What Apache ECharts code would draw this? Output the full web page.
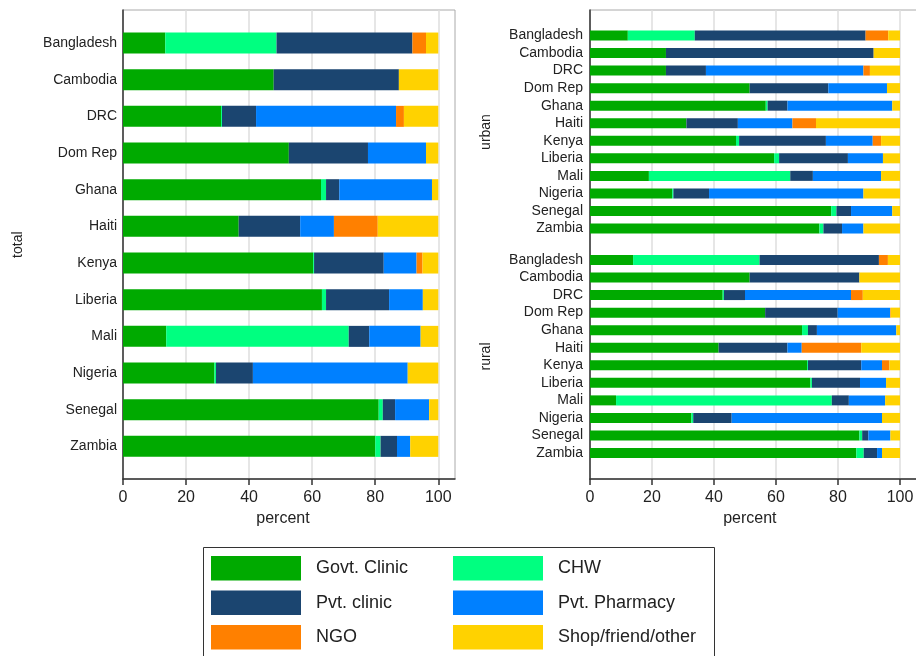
<!DOCTYPE html>
<html>
<head>
<meta charset="utf-8">
<script src="https://cdn.jsdelivr.net/npm/echarts@6/dist/echarts.min.js"></script>
<style>html,body{margin:0;padding:0;background:#fff}#c{width:916px;height:656px}</style>
</head>
<body>
<div id="c"></div>
<script>
const countries = ['Bangladesh','Cambodia','DRC','Dom Rep','Ghana','Haiti','Kenya','Liberia','Mali','Nigeria','Senegal','Zambia'];
const sources = ['Govt. Clinic','CHW','Pvt. clinic','Pvt. Pharmacy','NGO','Shop/friend/other'];
const colors = ['#00aa00','#00ff80','#1b4570','#0080ff','#ff8000','#ffd200'];
const tickValues = [0,20,40,60,80,100];

// total
const totGovt   = [13.4,47.8,31.1,52.6,62.8,36.7,60.3,63.1,13.7,29.0,81.1,80.0];
const totCHW    = [35.3,0,0.3,0,1.6,0,0.3,1.3,57.9,0.5,1.3,1.7];
const totPvtCl  = [43.1,39.7,10.8,25.1,4.2,19.5,22.1,20.0,6.5,11.7,3.9,5.2];
const totPharm  = [0,0,44.4,18.4,29.4,10.7,10.4,10.7,16.3,49.1,10.8,4.2];
const totNGO    = [4.3,0,2.5,0,0,13.9,1.9,0,0,0,0,0];
const totShop   = [3.9,12.5,10.9,3.9,2.0,19.2,5.0,4.9,5.6,9.7,2.9,8.9];

// urban
const urbGovt   = [12.2,24.5,24.5,51.5,56.7,31.1,47.1,59.4,19.0,26.5,77.8,74.0];
const urbCHW    = [21.6,0,0,0,0.6,0,1.0,1.6,45.6,0.4,1.7,1.3];
const urbPvtCl  = [55.1,67.0,12.9,25.4,6.4,16.6,28.0,22.2,7.3,11.5,4.7,6.0];
const urbPharm  = [0,0,50.8,18.9,33.8,17.6,15.1,11.3,22.0,49.8,13.3,6.9];
const urbNGO    = [7.3,0,2.1,0,0,7.6,2.7,0,0,0,0,0];
const urbShop   = [3.8,8.5,9.7,4.2,2.5,27.1,6.1,5.5,6.1,11.8,2.5,11.8];

// rural
const rurGovt   = [13.9,51.5,42.8,56.5,68.4,41.5,70.0,71.1,8.4,32.7,86.9,85.9];
const rurCHW    = [40.8,0,0.4,0,1.9,0,0.3,0.5,69.6,0.6,0.9,2.4];
const rurPvtCl  = [38.5,35.4,6.8,23.4,2.9,22.2,17.2,15.5,5.5,12.4,2.0,4.3];
const rurPharm  = [0,0,34.2,16.9,25.6,4.6,6.7,8.4,11.7,48.5,7.1,1.6];
const rurNGO    = [2.9,0,3.8,0.2,0,19.2,2.4,0,0,0,0,0];
const rurShop   = [3.9,13.1,12.0,3.0,1.2,12.5,3.4,4.5,4.8,5.8,3.1,5.8];

const totalSets = [totGovt,totCHW,totPvtCl,totPharm,totNGO,totShop];
const urbanSets = [urbGovt,urbCHW,urbPvtCl,urbPharm,urbNGO,urbShop];
const ruralSets = [rurGovt,rurCHW,rurPvtCl,rurPharm,rurNGO,rurShop];

const FONT = 'Liberation Sans, Arial, Helvetica, sans-serif';
const LMAX = 105.3, RMAX = 107;

function frameX(gi, max, namePadRight) {
  return {
    type:'value', gridIndex:gi, min:0, max:max, interval:20,
    axisLine:{show:true, lineStyle:{color:'#333', width:1.5}},
    axisTick:{show:true, length:6, lineStyle:{color:'#333', width:1.5}, customValues:tickValues},
    axisLabel:{fontSize:16, color:'#222', fontFamily:FONT, margin:11, customValues:tickValues},
    splitLine:{show:true, lineStyle:{color:'#dedede', width:1.5}},
    name:'percent', nameLocation:'middle', nameGap:32,
    nameTextStyle:{fontSize:16, color:'#222', fontFamily:FONT, padding:[0,namePadRight,0,0]}
  };
}
function frameY(gi) {
  return {
    type:'value', gridIndex:gi, min:0, max:1,
    axisLine:{show:true, onZero:false, lineStyle:{color:'#333', width:1.5}},
    axisTick:{show:false}, axisLabel:{show:false}, splitLine:{show:false}
  };
}
function barX(gi, max) {
  return {type:'value', gridIndex:gi, min:0, max:max, show:false, splitLine:{show:false}};
}
function barY(gi, margin, name, gap) {
  return {
    type:'category', gridIndex:gi, data:countries, inverse:true,
    axisLine:{show:false}, axisTick:{show:false},
    axisLabel:{fontSize:14, color:'#222', fontFamily:FONT, margin:margin, interval:0},
    name:name, nameLocation:'middle', nameRotate:90, nameGap:gap,
    nameTextStyle:{fontSize:14, color:'#222', fontFamily:FONT}
  };
}

const RW = RMAX*3.1;
const grids = [
  {left:123, top:10, width:332, height:469, show:true, borderColor:'#aaa', borderWidth:1, outerBoundsMode:'none'},
  {left:123, top:24.7, width:332, height:440, outerBoundsMode:'none'},
  {left:590, top:10, width:RW, height:469, show:true, borderColor:'#aaa', borderWidth:1, outerBoundsMode:'none'},
  {left:590, top:26.7, width:RW, height:210.6, outerBoundsMode:'none'},
  {left:590, top:251.2, width:RW, height:210.6, outerBoundsMode:'none'}
];
const xAxes = [frameX(0,LMAX,12), barX(1,LMAX), frameX(2,RMAX,12), barX(3,RMAX), barX(4,RMAX)];
const yAxes = [frameY(0), barY(1,6,'total',98), frameY(2), barY(3,7,'urban',97), barY(4,7,'rural',97)];

const series = [];
function addSet(sets, gi, stack, bw) {
  sets.forEach((vals, k) => {
    series.push({
      type:'bar', name:sources[k], xAxisIndex:gi, yAxisIndex:gi, stack:stack,
      data:vals, barWidth:bw, itemStyle:{color:colors[k]}, emphasis:{disabled:true}
    });
  });
}
addSet(totalSets, 1, 'tot', 21);
addSet(urbanSets, 3, 'urb', 10);
addSet(ruralSets, 4, 'rur', 10);

const legendCommon = {
  orient:'vertical', itemWidth:90, itemHeight:24.5, itemGap:10, padding:0, height:120,
  icon:'rect', selectedMode:false,
  textStyle:{fontSize:18, color:'#222', fontFamily:FONT, padding:[0,0,0,10]}
};

const chart = echarts.init(document.getElementById('c'), null, {renderer:'canvas'});
chart.setOption({
  animation:false,
  color:colors,
  textStyle:{fontFamily:FONT},
  grid:grids, xAxis:xAxes, yAxis:yAxes, series:series,
  legend:[
    Object.assign({left:211, top:556, data:[sources[0],sources[2],sources[4]]}, legendCommon),
    Object.assign({left:453, top:556, data:[sources[1],sources[3],sources[5]]}, legendCommon)
  ],
  graphic:[
    {type:'rect', left:201, top:545, shape:{width:511, height:130},
     style:{fill:'none', stroke:'#333', lineWidth:1}, z:-1}
  ]
});
</script>
</body>
</html>
